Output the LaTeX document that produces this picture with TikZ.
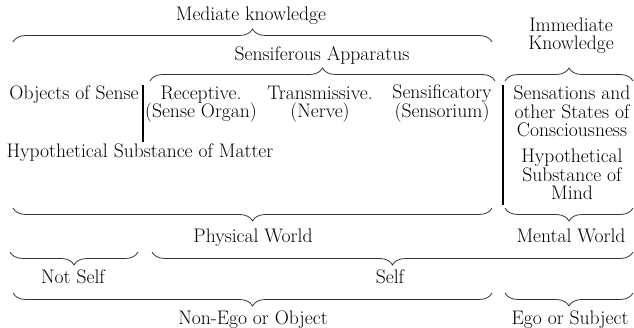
\documentclass[tikz,border=0pt]{standalone}
\usetikzlibrary{decorations.pathreplacing}
\tikzset{
  lbl/.style={inner sep=0pt, anchor=base, align=center, font=\fontsize{19.6}{18.6}\selectfont},
  bracetop/.style={draw=black!80, line width=0.8pt, decorate, decoration={brace, amplitude=13pt}},
  bracebot/.style={draw=black!80, line width=0.8pt, decorate, decoration={brace, mirror, amplitude=13pt}},
  divider/.style={draw=black, line width=2pt}
}
\begin{document}
\begin{tikzpicture}[x=1pt, y=-1pt]
\useasboundingbox (0,0) rectangle (634,328);
% top texts
\node[lbl] (mediate) at (251,21) {Mediate knowledge};
\node[lbl] (sensif) at (322,61) {Sensiferous Apparatus};
\node[lbl] (immed) at (571,50) {Immediate\\Knowledge};
% top braces
\coordinate (b1a) at (13,42);  \coordinate (b1b) at (492,42);
\coordinate (b2a) at (150,81); \coordinate (b2b) at (495,81);
\coordinate (b3a) at (505,81); \coordinate (b3b) at (633,81);
\draw[bracetop] (b1a) -- (b1b);
\draw[bracetop] (b2a) -- (b2b);
\draw[bracetop] (b3a) -- (b3b);
% middle row
\node[lbl] (objects) at (74,100) {Objects of Sense};
\node[lbl] (recept) at (201,118) {Receptive.\\(Sense Organ)};
\node[lbl] (transm) at (320,118) {Transmissive.\\(Nerve)};
\node[lbl] (sensor) at (442,118) {Sensificatory\\(Sensorium)};
\node[lbl] (sensations) at (572,137) {Sensations and\\other States of\\Consciousness};
\node[lbl] (mind) at (572,200) {Hypothetical\\Substance of\\Mind};
\node[lbl] (matter) at (140,158) {Hypothetical Substance of Matter};
% dividers
\coordinate (d1a) at (143,85);  \coordinate (d1b) at (143,142);
\coordinate (d2a) at (502.5,85); \coordinate (d2b) at (502.5,205);
\draw[divider] (d1a) -- (d1b);
\draw[divider] (d2a) -- (d2b);
% lower braces
\coordinate (b4a) at (13,208);  \coordinate (b4b) at (492,208);
\coordinate (b5a) at (505,208); \coordinate (b5b) at (633,208);
\draw[bracebot] (b4a) -- (b4b);
\draw[bracebot] (b5a) -- (b5b);
\node[lbl] (physical) at (253,243) {Physical World};
\node[lbl] (mental) at (571,243) {Mental World};
\coordinate (b6a) at (10,252);  \coordinate (b6b) at (138,252);
\coordinate (b7a) at (152,252); \coordinate (b7b) at (633,252);
\draw[bracebot] (b6a) -- (b6b);
\draw[bracebot] (b7a) -- (b7b);
\node[lbl] (notself) at (73,284) {Not Self};
\node[lbl] (self) at (390,284) {Self};
\coordinate (b8a) at (13,293);  \coordinate (b8b) at (492,293);
\coordinate (b9a) at (505,293); \coordinate (b9b) at (633,293);
\draw[bracebot] (b8a) -- (b8b);
\draw[bracebot] (b9a) -- (b9b);
\node[lbl] (nonego) at (253,324) {Non-Ego or Object};
\node[lbl] (ego) at (570,324) {Ego or Subject};
\end{tikzpicture}
\end{document}
